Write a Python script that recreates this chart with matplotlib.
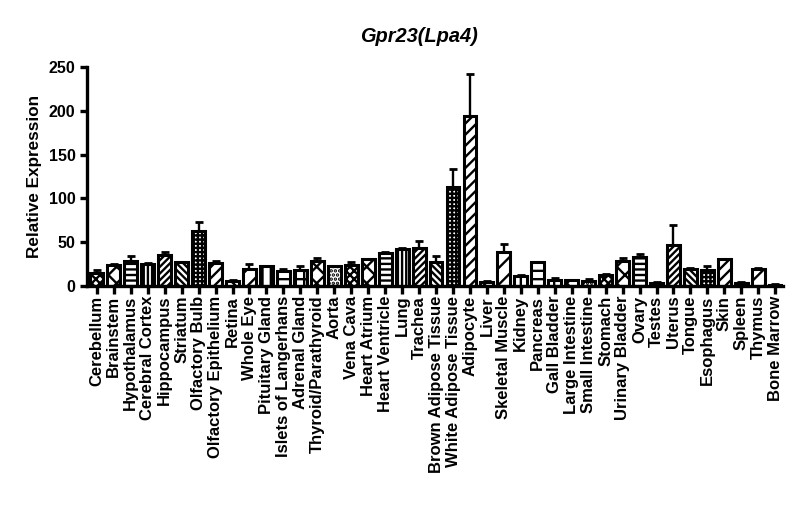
import matplotlib
matplotlib.use("Agg")
import matplotlib.pyplot as plt
import numpy as np

plt.rcParams.update({
    "font.family": ["Liberation Sans", "DejaVu Sans"],
    "font.weight": "bold",
    "hatch.linewidth": 1.7,
    "axes.linewidth": 2.4,
})

# tissues, mean relative expression and upper error (SEM)
tissues = [
    "Cerebellum", "Brainstem", "Hypothalamus", "Cerebral Cortex", "Hippocampus",
    "Striatum", "Olfactory Bulb", "Olfactory Epithelium", "Retina", "Whole Eye",
    "Pituitary Gland", "Islets of Langerhans", "Adrenal Gland", "Thyroid/Parathyroid",
    "Aorta", "Vena Cava", "Heart Atrium", "Heart Ventricle", "Lung", "Trachea",
    "Brown Adipose Tissue", "White Adipose Tissue", "Adipocyte", "Liver",
    "Skeletal Muscle", "Kidney", "Pancreas", "Gall Bladder", "Large Intestine",
    "Small Intestine", "Stomach", "Urinary Bladder", "Ovary", "Testes", "Uterus",
    "Tongue", "Esophagus", "Skin", "Spleen", "Thymus", "Bone Marrow",
]
expression = [
    15, 24.5, 28.5, 25.5, 36, 27.5, 63, 26, 6, 20,
    23, 17, 18.5, 28.5, 22.5, 24.5, 31, 38, 42.5, 43,
    27, 113, 194, 5, 39, 12, 27.5, 6.5, 7, 6.3,
    12.5, 29, 33.5, 4, 46.5, 20, 18.5, 31, 4, 20, 1.8,
]
error_up = [
    3, 1, 6, 0.5, 3, 0.5, 10.5, 2.5, 0.5, 5,
    0.5, 3, 4, 3.5, 0.5, 3, 0.5, 0.5, 0.5, 8.5,
    7, 20, 48, 0.5, 8.5, 0.5, 0.5, 2.5, 0.5, 1.5,
    1, 3, 3, 0.5, 23, 1, 4, 0.5, 0.5, 0.5, 0.3,
]

# GraphPad-like fill patterns, repeating every 15 bars
patterns = ["xxxx", "xx", "---", "||||", "/////", "\\\\\\\\\\", "++++", "///",
            "\\\\", "//", "||", "--", "++", "xx", "...."]

x = np.arange(len(tissues))

fig = plt.figure(figsize=(8.0, 5.26), dpi=100)
ax = fig.add_axes([0.109, 0.456, 0.870, 0.417])

bars = ax.bar(x, expression, width=0.76, color="white", edgecolor="black",
              linewidth=2.2, zorder=2)
for i, b in enumerate(bars):
    b.set_hatch(patterns[i % len(patterns)])

ax.errorbar(x, expression, yerr=[np.zeros(len(x)), error_up], fmt="none",
            ecolor="black", elinewidth=1.7, capsize=2.8, capthick=2.0, zorder=3)

ax.set_xlim(-0.57, len(x) - 0.53)
ax.set_ylim(0, 250)
ax.set_yticks([0, 50, 100, 150, 200, 250])
ax.set_xticks(x)
ax.set_xticklabels(tissues, rotation=90, fontsize=12, fontweight="bold")
ax.tick_params(axis="y", labelsize=11.5, width=2.4, length=5, direction="out")
ax.tick_params(axis="x", width=2.4, length=6, direction="out", pad=1)
for lab in ax.get_yticklabels():
    lab.set_fontweight("bold")

ax.spines["top"].set_visible(False)
ax.spines["right"].set_visible(False)

ax.set_ylabel("Relative Expression", fontsize=12.3, fontweight="bold", labelpad=5)
fig.text(0.524, 0.93, "Gpr23(Lpa4)", fontsize=14.4, fontweight="bold",
         fontstyle="italic", ha="center", va="center")

fig.savefig("out.png", dpi=100)
